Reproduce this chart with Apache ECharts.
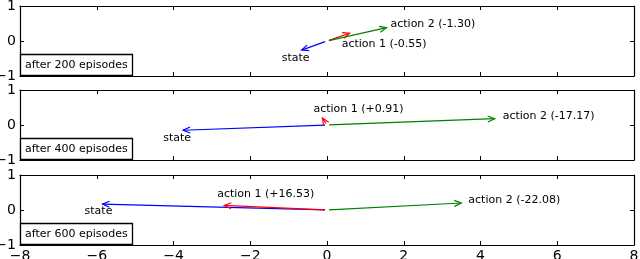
<!DOCTYPE html>
<html>
<head>
<meta charset="utf-8">
<script src="https://cdn.jsdelivr.net/npm/echarts@6/dist/echarts.min.js"></script>
<style>
html,body{margin:0;padding:0;background:#fff;}
#chart{width:640px;height:259px;}
</style>
</head>
<body>
<div id="chart"></div>
<script>
// ---- data ----
const panelTitles = ['after 200 episodes', 'after 400 episodes', 'after 600 episodes'];
const arrowNames = ['state', 'action 1', 'action 2'];
const stateX = [-0.66, -3.75, -5.85];
const stateY = [-0.26, -0.15, 0.17];
const action1X = [0.59, -0.12, -2.68];
const action1Y = [0.22, 0.20, 0.13];
const action2X = [1.55, 4.37, 3.50];
const action2Y = [0.38, 0.18, 0.20];
const action1Q = ['-0.55', '+0.91', '+16.53'];
const action2Q = ['-1.30', '-17.17', '-22.08'];
const xTicks = [-8, -6, -4, -2, 0, 2, 4, 6, 8];
const yTicks = [-1, 0, 1];

// ---- styles ----
const arrowColors = ['#0000ff', '#ff0000', '#008000'];
// label placement relative to arrow tip in pixels: [dx, dy, align]
const labelOffsets = [
  [[-6, 8, 'center'], [-8, 11, 'left'], [4, -4, 'left']],
  [[-6, 8, 'center'], [-9, -9, 'left'], [8, -3, 'left']],
  [[-4, 7, 'center'], [-7, -11, 'left'], [7, -3, 'left']]
];
const FONT = 'DejaVu Sans';
const gridTops = [6, 90, 175];
const gridH = 70;

function fmt(v) { return String(v).replace('-', '\u2212'); }

const grids = [], xAxes = [], yAxes = [], series = [], titles = [];
for (let p = 0; p < 3; p++) {
  grids.push({left: 20, right: 6, top: gridTops[p], height: gridH, containLabel: false, outerBoundsMode: 'none'});
  const tick = {show: true, inside: true, length: 4, lineStyle: {color: '#000', width: 1}};
  const line = {show: true, onZero: false, lineStyle: {color: '#000', width: 1.2}};
  xAxes.push({gridIndex: p, type: 'value', min: xTicks[0], max: xTicks[xTicks.length - 1], interval: 2,
    position: 'bottom', axisLine: line, axisTick: tick, splitLine: {show: false},
    axisLabel: {show: p === 2, color: '#000', fontSize: 14, fontFamily: FONT, margin: 4, formatter: fmt}});
  xAxes.push({gridIndex: p, type: 'value', min: xTicks[0], max: xTicks[xTicks.length - 1], interval: 2,
    position: 'top', axisLine: line, axisTick: tick, splitLine: {show: false}, axisLabel: {show: false}});
  yAxes.push({gridIndex: p, type: 'value', min: yTicks[0], max: yTicks[yTicks.length - 1], interval: 1,
    position: 'left', axisLine: line, axisTick: tick, splitLine: {show: false},
    axisLabel: {color: '#000', fontSize: 14, fontFamily: FONT, margin: 4, formatter: fmt}});
  yAxes.push({gridIndex: p, type: 'value', min: yTicks[0], max: yTicks[yTicks.length - 1], interval: 1,
    position: 'right', axisLine: line, axisTick: tick, splitLine: {show: false}, axisLabel: {show: false}});

  const texts = [arrowNames[0], arrowNames[1] + ' (' + action1Q[p] + ')', arrowNames[2] + ' (' + action2Q[p] + ')'];
  const data = [
    [stateX[p], stateY[p], 0],
    [action1X[p], action1Y[p], 1],
    [action2X[p], action2Y[p], 2]
  ];
  series.push({
    type: 'custom', xAxisIndex: 2 * p, yAxisIndex: 2 * p, data: data, silent: true, animation: false,
    renderItem: function (params, api) {
      const k = api.value(2);
      const o = api.coord([0, 0]);
      const t = api.coord([api.value(0), api.value(1)]);
      let dx = t[0] - o[0], dy = t[1] - o[1];
      const len = Math.sqrt(dx * dx + dy * dy) || 1;
      const ux = dx / len, uy = dy / len;
      const s = [o[0] + ux * 2, o[1] + uy * 2];
      const hl = 7, hw = 3;
      const b = [t[0] - ux * hl, t[1] - uy * hl];
      const h1 = [b[0] - uy * hw, b[1] + ux * hw];
      const h2 = [b[0] + uy * hw, b[1] - ux * hw];
      const col = arrowColors[k];
      const off = labelOffsets[p][k];
      return {
        type: 'group',
        children: [
          {type: 'polyline', shape: {points: [s, t]}, style: {stroke: col, lineWidth: 1.2, fill: null}},
          {type: 'polyline', shape: {points: [h1, t, h2]}, style: {stroke: col, lineWidth: 1.2, fill: null}},
          {type: 'text', style: {text: texts[k], x: t[0] + off[0], y: t[1] + off[1], fill: '#000',
            font: '11px "' + FONT + '"', textAlign: off[2], textVerticalAlign: 'middle'}}
        ]
      };
    }
  });
  titles.push({text: panelTitles[p], left: 20, top: gridTops[p] + gridH - 22,
    padding: [4, 5, 4, 5], borderColor: '#000', borderWidth: 1.3, backgroundColor: '#fff',
    textStyle: {fontSize: 11, fontWeight: 'normal', color: '#000', fontFamily: FONT, lineHeight: 14}});
}

const chart = echarts.init(document.getElementById('chart'), null, {renderer: 'canvas'});
chart.setOption({
  animation: false,
  backgroundColor: '#fff',
  title: titles,
  grid: grids,
  xAxis: xAxes,
  yAxis: yAxes,
  series: series
});
</script>
</body>
</html>
